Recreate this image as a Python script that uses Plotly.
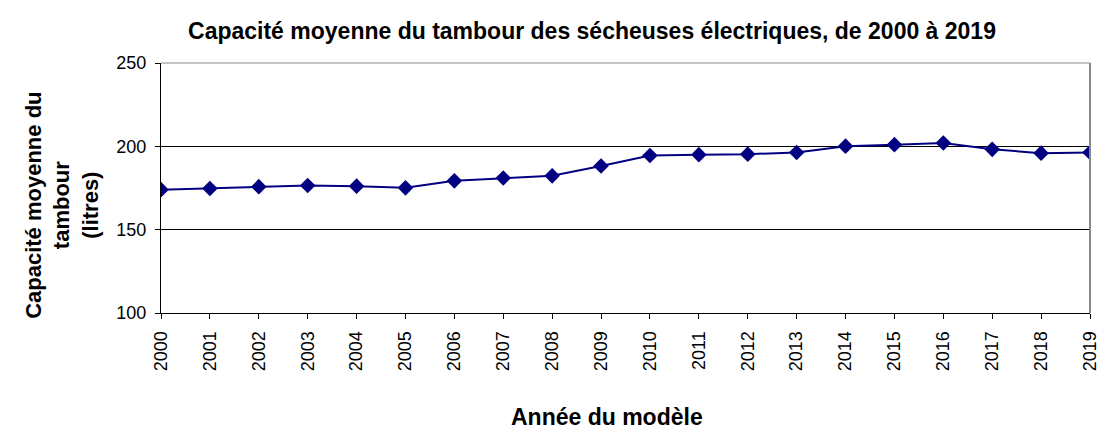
import plotly.graph_objects as go

years = list(range(2000, 2020))
capacite = [174, 174.7, 175.8, 176.5, 176.1, 175.1, 179.3, 181.0, 182.3, 188.2,
            194.5, 195.0, 195.3, 196.3, 200.1, 201.0, 202.0, 198.2, 195.9, 196.3]
y_ticks = [100, 150, 200, 250]

FONT = "Liberation Sans, Arial, sans-serif"
NAVY = "#000080"

fig = go.Figure()
fig.add_trace(go.Scatter(
    x=years, y=capacite, mode="lines+markers",
    line=dict(color=NAVY, width=2),
    marker=dict(symbol="diamond", size=12, color=NAVY),
    showlegend=False,
))

fig.update_layout(
    width=1112, height=433,
    margin=dict(l=161, r=14, t=63, b=120),
    paper_bgcolor="white", plot_bgcolor="white",
    font=dict(family=FONT, color="black"),
    title=dict(
        text="<b>Capacité moyenne du tambour des sécheuses électriques, de 2000 à 2019</b>",
        font=dict(size=23, family=FONT, color="black"),
        x=592/1112, xanchor="center", xref="container",
        y=1 - 31/433, yanchor="middle", yref="container",
    ),
    xaxis=dict(
        range=[2000, 2019], tickvals=years, ticktext=[str(y) for y in years],
        tickangle=-90, tickfont=dict(size=18, family=FONT),
        showgrid=False, zeroline=False,
        showline=True, linecolor="black", linewidth=1,
        ticks="outside", ticklen=5, tickcolor="black",
        ticklabelstandoff=5,
        mirror=False,
    ),
    yaxis=dict(
        range=[100, 250], tickvals=y_ticks, tickfont=dict(size=18, family=FONT),
        showgrid=True, gridcolor="black", gridwidth=1,
        zeroline=False,
        showline=True, linecolor="black", linewidth=1,
        ticks="outside", ticklen=5, tickcolor="black",
        ticklabelstandoff=5,
    ),
    annotations=[
        dict(text="<b>Capacité moyenne du<br>tambour<br>(litres)</b>",
             textangle=-90, xref="paper", yref="paper",
             x=(61 - 161) / 937, y=(313 - 205) / 250,
             xanchor="center", yanchor="middle", showarrow=False,
             font=dict(size=22, family=FONT, color="black")),
        dict(text="<b>Année du modèle</b>",
             xref="paper", yref="paper",
             x=(611 - 161) / 937, y=-(417 - 313) / 250,
             xanchor="center", yanchor="middle", showarrow=False,
             font=dict(size=23, family=FONT, color="black")),
    ],
)

# gray border on top and right of plot area
fig.add_shape(type="line", xref="paper", yref="paper", x0=0, x1=1, y0=1, y1=1,
              line=dict(color="#888888", width=1))
fig.add_shape(type="line", xref="paper", yref="paper", x0=1, x1=1, y0=0, y1=1,
              line=dict(color="#888888", width=2))

fig.write_html("out.html")
